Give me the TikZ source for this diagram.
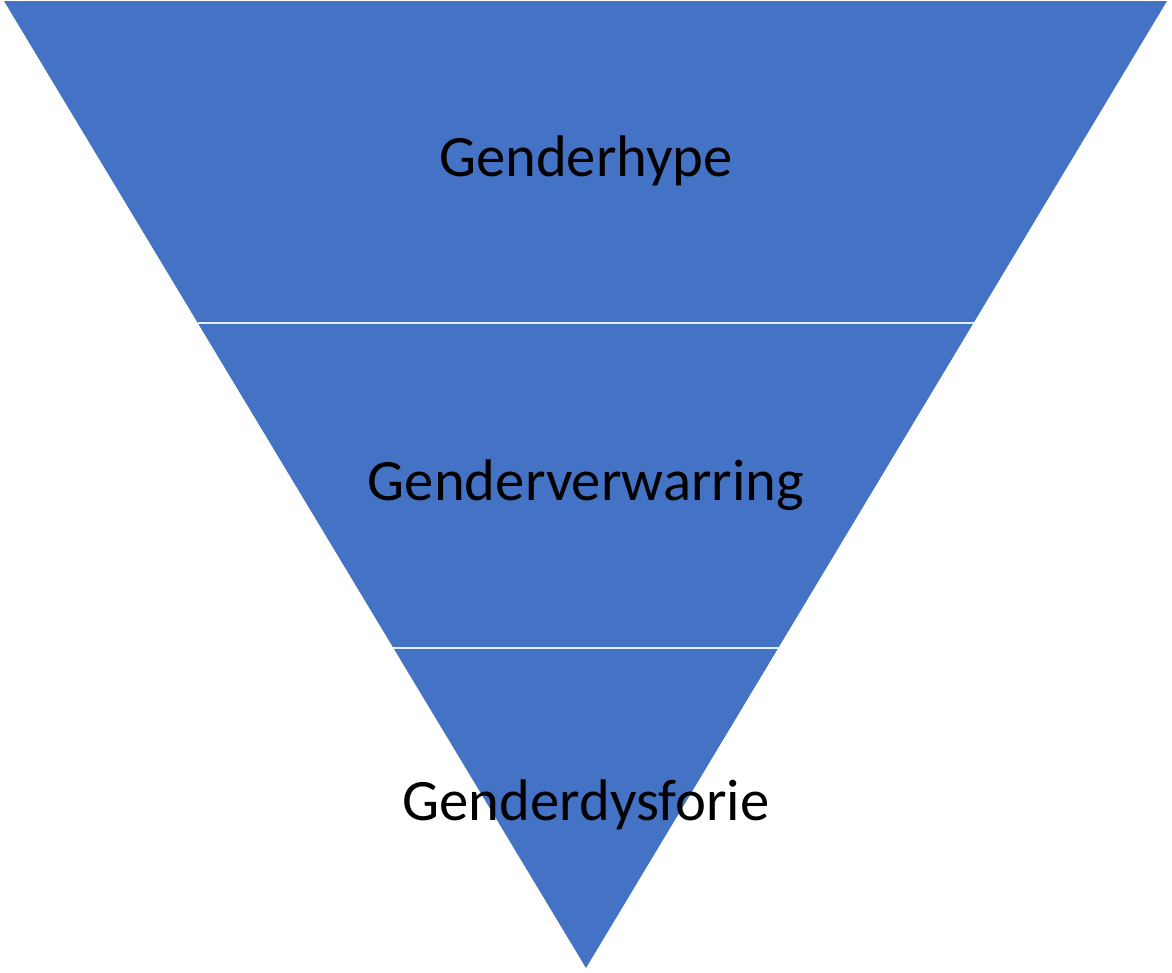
\documentclass[tikz,border=0pt]{standalone}
\usepackage{fontspec}
\setmainfont{Carlito}
\definecolor{funnelblue}{HTML}{4472C4}
\definecolor{divider}{HTML}{E4ECF7}
\tikzset{
  level/.style={fill=funnelblue, draw=none},
  sep/.style={draw=divider, line width=1.5pt},
  lbl/.style={anchor=base, text=black, inner sep=0pt, font=\fontsize{44}{52}\selectfont}
}
\begin{document}
\begin{tikzpicture}[x=0.75pt, y=-0.75pt]
\useasboundingbox (0,0) rectangle (1172,972);
\coordinate (tl) at (4,1);
\coordinate (tr) at (1167,1);
\coordinate (ap) at (586,968);
\coordinate (l1) at (198,323);
\coordinate (r1) at (975,323);
\coordinate (l2) at (393,648);
\coordinate (r2) at (780,648);
\fill[level] (tl) -- (tr) -- (ap) -- cycle;
\draw[sep] (l1) -- (r1);
\draw[sep] (l2) -- (r2);
\node[lbl] (t1) at (586,176) {Genderhype};
\node[lbl] (t2) at (586,500) {Genderverwarring};
\node[lbl] (t3) at (586,820) {Genderdysforie};
\end{tikzpicture}
\end{document}
